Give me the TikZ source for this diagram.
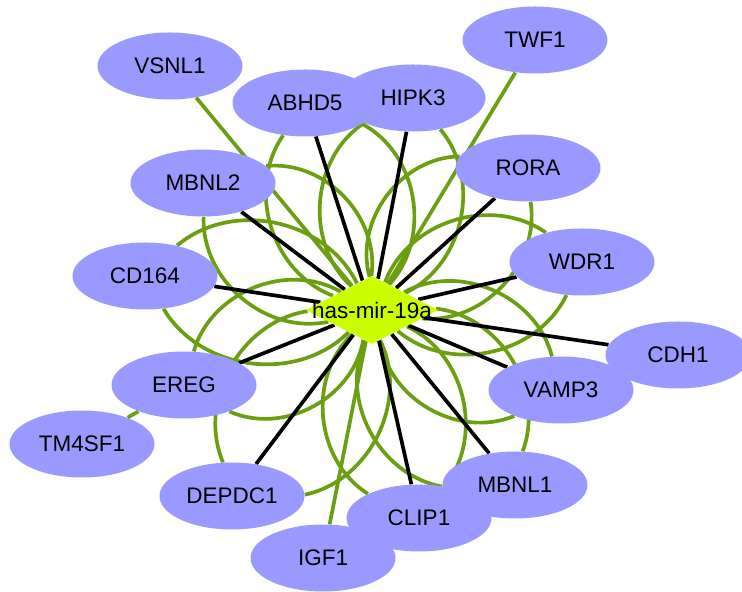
\documentclass[tikz,border=0pt]{standalone}
\usepackage{fontspec}
\setmainfont{Liberation Sans}
\usetikzlibrary{shapes.geometric,backgrounds}
\definecolor{genefill}{RGB}{153,153,255}
\definecolor{hubfill}{RGB}{204,255,0}
\definecolor{leafgreen}{RGB}{108,158,18}

\begin{document}
\begin{tikzpicture}[
  font=\fontsize{12.8}{15}\selectfont,
  gene/.style={ellipse, fill=genefill, minimum width=2.9cm,
               minimum height=1.34cm, inner sep=0pt},
  hub/.style={diamond, fill=hubfill, minimum width=2.65cm,
              minimum height=1.36cm, inner sep=0pt},
  tie/.style={line width=2.1pt, black},
  petal/.style={line width=2.1pt, leafgreen}]
\useasboundingbox (0,0) rectangle (14.84,11.84);
\node[gene] (vsnl)  at (3.40,10.52) {VSNL1};
\node[gene] (abhd)  at (6.10,9.78)  {ABHD5};
\node[gene] (hipk)  at (8.26,9.88)  {HIPK3};
\node[gene] (twf)   at (10.70,11.04) {TWF1};
\node[gene] (mbnlb) at (4.06,8.18)  {MBNL2};
\node[gene] (rora)  at (10.56,8.48) {RORA};
\node[gene] (cd)    at (2.90,6.32)  {CD164};
\node[gene] (wdr)   at (11.64,6.60) {WDR1};
\node[gene] (ereg)  at (3.68,4.14)  {EREG};
\node[gene] (tm)    at (1.64,2.96)  {TM4SF1};
\node[gene] (depdc) at (4.64,1.92)  {DEPDC1};
\node[gene] (igf)   at (6.46,0.68)  {IGF1};
\node[gene] (mbnla) at (10.30,2.14) {MBNL1};
\node[gene] (clip)  at (8.38,1.48)  {CLIP1};
\node[gene] (vamp)  at (11.22,4.04) {VAMP3};
\node[gene] (cdh)   at (13.56,4.74) {CDH1};
\node[hub, label=center:has-mir-19a] (mir) at (7.44,5.64) {};
\begin{scope}[on background layer]
% curved green edges, two per target
\foreach \g in {abhd,hipk,rora,wdr,vamp,mbnla,clip,depdc,ereg,cd,mbnlb} {
  \draw[petal] (mir) to[bend left=52] (\g);
  \draw[petal] (mir) to[bend right=52] (\g);
}
\draw[petal] (mir) -- (vsnl);
\draw[petal] (mir) -- (twf);
\draw[petal] (mir) -- (igf);
\draw[petal] (ereg) -- (tm);
\draw[tie] (mir) -- (abhd);
\draw[tie] (mir) -- (hipk);
\draw[tie] (mir) -- (rora);
\draw[tie] (mir) -- (wdr);
\draw[tie] (mir) -- (cdh);
\draw[tie] (mir) -- (vamp);
\draw[tie] (mir) -- (mbnla);
\draw[tie] (mir) -- (clip);
\draw[tie] (mir) -- (depdc);
\draw[tie] (mir) -- (ereg);
\draw[tie] (mir) -- (cd);
\draw[tie] (mir) -- (mbnlb);
\end{scope}
\end{tikzpicture}
\end{document}
